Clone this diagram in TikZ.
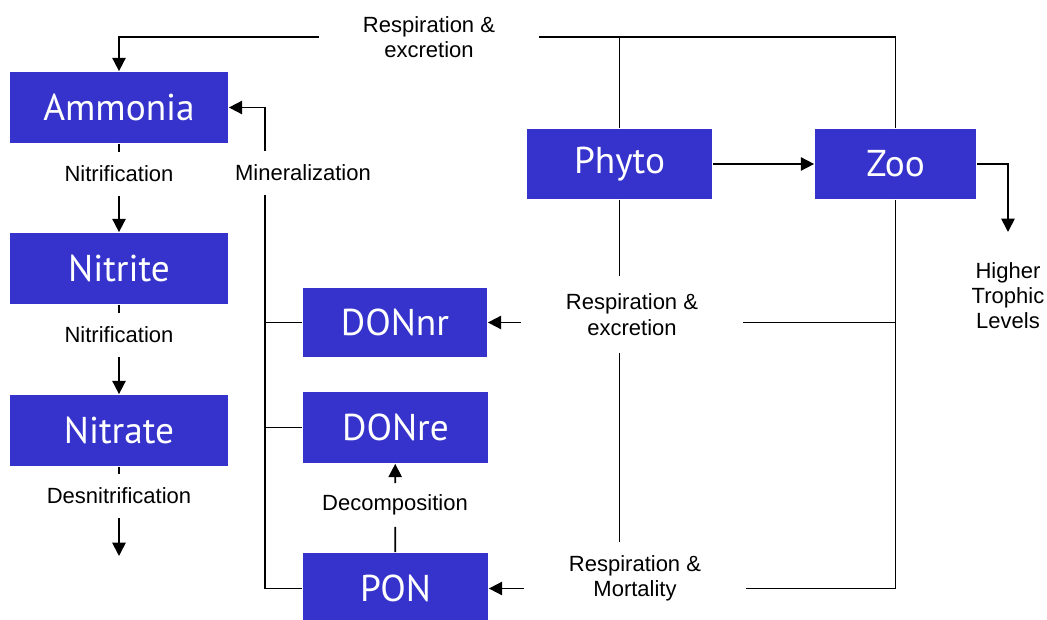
\documentclass[tikz,border=0pt]{standalone}
\usepackage{fontspec}
\setmainfont{Liberation Sans}
\newfontfamily\poolfont{PT Sans}
\usetikzlibrary{arrows.meta}
\definecolor{poolblue}{RGB}{53,51,204}

\begin{document}
\begin{tikzpicture}
	[x=0.75pt,y=-0.75pt,>={Triangle[length=10pt,width=10pt]},line width=1.3pt,
		pool node/.style={rectangle,fill=poolblue,text=white,inner sep=0pt,font=\poolfont\fontsize{28}{32}\selectfont},
		flux node/.style={inner sep=0pt,align=center,minimum height=31.5pt,font=\fontsize{16.5}{19}\selectfont}]

	\useasboundingbox (0,0) rectangle (1047,620);

	\node[pool node, minimum width=163.5pt, minimum height=53.25pt]  (Amm)   at (119,107.5)   {Ammonia};
	\node[pool node, minimum width=163.5pt, minimum height=53.25pt]  (Nit)   at (119,268.5)   {Nitrite};
	\node[pool node, minimum width=163.5pt, minimum height=53.25pt]  (Nat)   at (119,430.5)   {Nitrate};
	\node[pool node, minimum width=138pt, minimum height=51.75pt]    (DONnr) at (395,322.5)   {DONnr};
	\node[pool node, minimum width=138.75pt, minimum height=53.25pt] (DONre) at (395.5,427.5) {DONre};
	\node[pool node, minimum width=138.75pt, minimum height=53.25pt] (PON)   at (395.5,588.5) {PON};
	\node[pool node, minimum width=138.75pt, minimum height=52.5pt]  (Phy)   at (619.5,164)   {Phyto};
	\node[pool node, minimum width=120.75pt, minimum height=52.5pt]  (Zoo)   at (895.5,164)   {Zoo};

	\node[flux node]  (nit1) at (119,174) {Nitrification};
	\node[flux node]  (nit2) at (119,335) {Nitrification};
	\node[flux node]  (den)  at (119,496) {Desnitrification};
	\node[flux node]  (minl) at (303,173) {Mineralization};
	\node[flux node]  (dec)  at (395,505) {Decomposition};
	\node[flux node, minimum width=163.5pt]                     (resp) at (429,37)    {Respiration \&\\excretion};
	\node[flux node, minimum width=165pt, minimum height=56.25pt] (exc)  at (632,314.5) {Respiration \&\\excretion};
	\node[flux node, minimum width=165pt, minimum height=52.5pt]  (mort) at (635,578)   {Respiration \&\\Mortality};
	\node[flux node, anchor=north, inner ysep=22pt]               (htl)  at (1008,232)  {Higher\\Trophic\\Levels};

	\coordinate (sink) at (119,556);
	\coordinate (mn)   at (265,588.5);

	% nitrification chain
	\draw (Amm) -- (nit1);
	\draw[->] (nit1) -- (Nit);
	\draw (Nit) -- (nit2);
	\draw[->] (nit2) -- (Nat);
	\draw (Nat) -- (den);
	\draw[->] (den) -- (sink);

	% respiration & excretion to ammonia
	\draw[->] (resp) -| (Amm);
	\draw (Zoo) |- (resp);
	\draw (Phy) -- (Phy |- resp);

	\draw[->] (Phy) -- (Zoo);
	\draw[->] (Zoo) -| (htl);

	% losses to the organic pools
	\draw (Phy) -- (Phy |- exc.north);
	\draw (Phy |- exc.south) -- (Phy |- mort.north);
	\draw[->] (exc.west |- DONnr) -- (DONnr);
	\draw (exc.east |- DONnr) -- (Zoo |- DONnr);
	\draw (Zoo) |- (mort.east |- PON);
	\draw[->] (mort.west |- PON) -- (PON);

	\draw (PON) -- (dec);
	\draw[->] (dec) -- (DONre);

	% mineralization
	\draw (PON) -- (mn) -- (mn |- minl.south);
	\draw (DONnr) -- (mn |- DONnr);
	\draw (DONre) -- (mn |- DONre);
	\draw[->] (mn |- minl.north) |- (Amm);

\end{tikzpicture}
\end{document}
